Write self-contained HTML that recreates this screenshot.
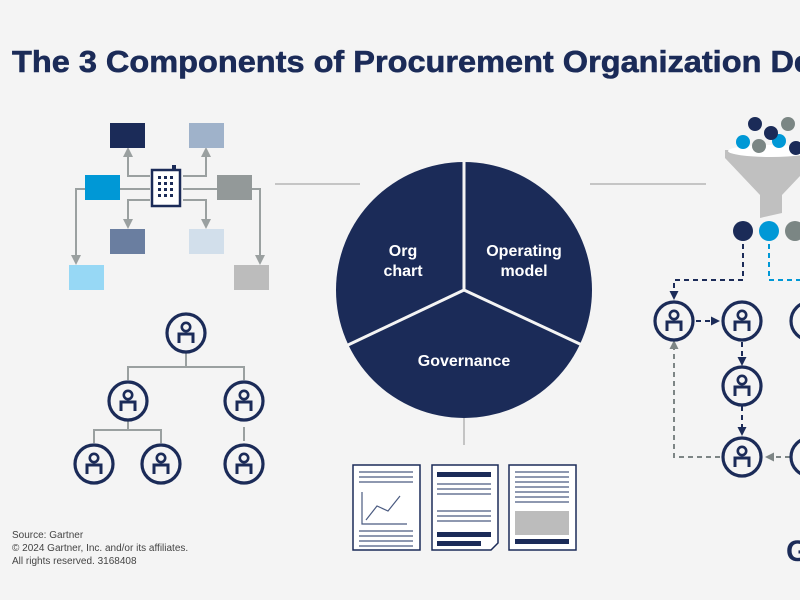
<!DOCTYPE html>
<html><head><meta charset="utf-8"><style>
body{margin:0;background:#f4f4f4;}
svg{display:block;font-family:"Liberation Sans",sans-serif;}
</style></head><body>
<svg width="800" height="600" viewBox="0 0 800 600">
<defs>
<g id="p"><circle r="19" fill="#f4f4f4" stroke="#1b2b58" stroke-width="3.2"/>
<circle cy="-6" r="4.2" fill="none" stroke="#1b2b58" stroke-width="2.6"/>
<path d="M-7 10 V1 H7 V10" fill="none" stroke="#1b2b58" stroke-width="3"/></g>
<marker id="ag" markerUnits="userSpaceOnUse" markerWidth="10" markerHeight="10" refX="7" refY="5" orient="auto"><path d="M0 0 L10 5 L0 10Z" fill="#9aa0a0"/></marker>
<marker id="an" markerUnits="userSpaceOnUse" markerWidth="9" markerHeight="9" refX="6" refY="4.5" orient="auto"><path d="M0 0 L9 4.5 L0 9Z" fill="#1b2b58"/></marker>
<marker id="agr" markerUnits="userSpaceOnUse" markerWidth="9" markerHeight="9" refX="6" refY="4.5" orient="auto"><path d="M0 0 L9 4.5 L0 9Z" fill="#7d8585"/></marker>
</defs>
<text x="12" y="72" font-size="31" font-weight="bold" fill="#1b2b58" textLength="800" lengthAdjust="spacingAndGlyphs" stroke="#1b2b58" stroke-width="0.6">The 3 Components of Procurement Organization De</text>

<!-- connectors -->
<line x1="275" y1="184" x2="360" y2="184" stroke="#b5b5b5" stroke-width="1.5"/>
<line x1="590" y1="184" x2="706" y2="184" stroke="#b5b5b5" stroke-width="1.5"/>
<line x1="464" y1="418" x2="464" y2="445" stroke="#b5b5b5" stroke-width="1.5"/>

<!-- pie -->
<circle cx="464" cy="290" r="128" fill="#1b2b58"/>
<g stroke="#f4f4f4" stroke-width="3"><line x1="464" y1="290" x2="464" y2="160"/><line x1="464" y1="290" x2="348" y2="345"/><line x1="464" y1="290" x2="582" y2="345"/></g>
<g fill="#fff" font-size="16" font-weight="bold" text-anchor="middle">
<text x="403" y="256">Org</text><text x="403" y="276">chart</text>
<text x="524" y="256">Operating</text><text x="524" y="276">model</text>
<text x="464" y="366">Governance</text></g>

<!-- top-left org -->
<g stroke="#9aa0a0" stroke-width="2" fill="none">
<path d="M150 176 H128 V150" marker-end="url(#ag)"/>
<path d="M183 176 H206 V150" marker-end="url(#ag)"/>
<path d="M119 189 H150"/><path d="M183 189 H217"/>
<path d="M150 200 H128 V226" marker-end="url(#ag)"/>
<path d="M183 200 H206 V226" marker-end="url(#ag)"/>
<path d="M85 189 H76 V262" marker-end="url(#ag)"/>
<path d="M252 189 H260 V262" marker-end="url(#ag)"/>
</g>
<rect x="110" y="123" width="35" height="25" fill="#1b2b58"/>
<rect x="189" y="123" width="35" height="25" fill="#9fb2ca"/>
<rect x="85" y="175" width="35" height="25" fill="#0098d6"/>
<rect x="217" y="175" width="35" height="25" fill="#939999"/>
<rect x="110" y="229" width="35" height="25" fill="#6a7ea0"/>
<rect x="189" y="229" width="35" height="25" fill="#d2dfeb"/>
<rect x="69" y="265" width="35" height="25" fill="#97d8f5"/>
<rect x="234" y="265" width="35" height="25" fill="#bcbcbc"/>
<rect x="152" y="170" width="28" height="36" fill="#fff" stroke="#1b2b58" stroke-width="2.5"/>
<rect x="172" y="165" width="4" height="5" fill="#1b2b58"/>
<g fill="#1b2b58"><rect x="158" y="176" width="3" height="3"/><rect x="164" y="176" width="3" height="3"/><rect x="170" y="176" width="3" height="3"/><rect x="158" y="182" width="3" height="3"/><rect x="164" y="182" width="3" height="3"/><rect x="170" y="182" width="3" height="3"/><rect x="158" y="188" width="3" height="3"/><rect x="164" y="188" width="3" height="3"/><rect x="170" y="188" width="3" height="3"/><rect x="158" y="194" width="3" height="3"/><rect x="164" y="194" width="3" height="3"/><rect x="170" y="194" width="3" height="3"/></g>

<!-- bottom-left tree -->
<g stroke="#9aa0a0" stroke-width="2" fill="none">
<path d="M186 352 V367 M128 380 V367 H244 V380 M128 420 V430 M94 443 V430 H161 V443 M244 427 V441"/></g>
<use href="#p" x="186" y="333"/><use href="#p" x="128" y="401"/><use href="#p" x="244" y="401"/>
<use href="#p" x="94" y="464"/><use href="#p" x="161" y="464"/><use href="#p" x="244" y="464"/>

<!-- documents -->
<g stroke="#1b2b58" fill="#fff" stroke-width="1.5">
<rect x="353" y="465" width="67" height="85"/><path d="M432 465 H498 V543 L491 550 H432Z"/><rect x="509" y="465" width="67" height="85"/></g>
<g stroke="#4a5a80" stroke-width="1.2">
<path d="M359 472 H413 M359 477 H413 M359 482 H413 M359 531 H413 M359 536 H413 M359 541 H413 M359 546 H413"/>
<path d="M437 484 H491 M437 489 H491 M437 494 H491 M437 511 H491 M437 516 H491 M437 521 H491"/>
<path d="M515 472 H569 M515 477 H569 M515 482 H569 M515 487 H569 M515 492 H569 M515 497 H569 M515 502 H569"/></g>
<path d="M362 492 V524 H407 M366 520 L377 506 L388 511 L400 496" stroke="#4a5a80" stroke-width="1.2" fill="none"/>
<g fill="#1b2b58"><rect x="437" y="472" width="54" height="5"/><rect x="437" y="532" width="54" height="5"/><rect x="437" y="541" width="44" height="5"/><rect x="515" y="539" width="54" height="5"/></g>
<rect x="515" y="511" width="54" height="24" fill="#bcbcbc"/>

<!-- funnel -->
<path d="M725 150 H817 V158 L782 195 V213 L760 218 V195 L725 158Z" fill="#c0c0c0"/>
<ellipse cx="771" cy="151" rx="43" ry="6" fill="#fff"/>
<g><circle cx="755" cy="124" r="7" fill="#1b2b58"/><circle cx="788" cy="124" r="7" fill="#7b8684"/><circle cx="743" cy="142" r="7" fill="#0098d6"/><circle cx="779" cy="141" r="7" fill="#0098d6"/><circle cx="771" cy="133" r="7" fill="#1b2b58"/><circle cx="759" cy="146" r="7" fill="#7b8684"/><circle cx="796" cy="148" r="7" fill="#1b2b58"/></g>
<circle cx="743" cy="231" r="10" fill="#1b2b58"/><circle cx="769" cy="231" r="10" fill="#0098d6"/><circle cx="795" cy="231" r="10" fill="#7b8684"/>

<!-- process -->
<g fill="none" stroke-width="2" stroke-dasharray="5 4">
<path d="M743 244 V280 H674 V297" stroke="#1b2b58" marker-end="url(#an)"/>
<path d="M769 244 V280 H800" stroke="#0098d6"/>
<path d="M696 321 H717" stroke="#1b2b58" marker-end="url(#an)"/>
<path d="M742 342 V363" stroke="#1b2b58" marker-end="url(#an)"/>
<path d="M742 406 V433" stroke="#1b2b58" marker-end="url(#an)"/>
<path d="M720 457 H674 V343" stroke="#7d8585" marker-end="url(#agr)"/>
<path d="M790 457 H768" stroke="#7d8585" marker-end="url(#agr)"/>
</g>
<use href="#p" x="674" y="321"/><use href="#p" x="742" y="321"/><use href="#p" x="810" y="321"/>
<use href="#p" x="742" y="386"/><use href="#p" x="742" y="457"/><use href="#p" x="810" y="457"/>

<text x="786" y="561" font-size="30" font-weight="bold" fill="#1b2b58">G</text>

<g font-size="10" fill="#444"><text x="12" y="538">Source: Gartner</text><text x="12" y="551">© 2024 Gartner, Inc. and/or its affiliates.</text><text x="12" y="564">All rights reserved. 3168408</text></g>
</svg>
</body></html>
